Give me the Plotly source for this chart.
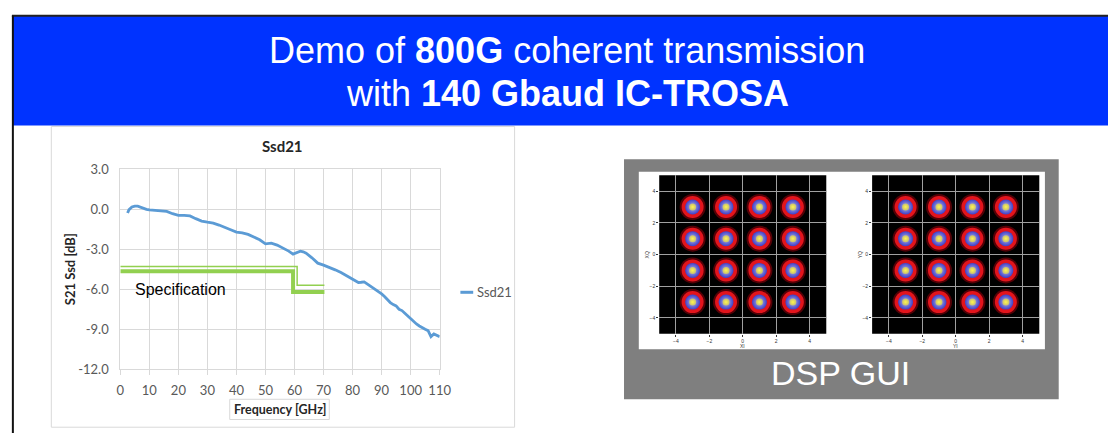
import plotly.graph_objects as go

# ---- S21 measurement (differential insertion loss) ----
freq_ghz = [2.5, 3, 4, 5, 6, 7, 8, 9, 10, 12, 14, 16, 18, 20, 22, 24, 26, 28, 30,
            32, 34, 36, 38, 40, 42, 44, 46, 48, 50, 52, 54, 56, 58, 59.5, 61, 62,
            63, 64, 66, 68, 70, 72, 74, 76, 78, 80, 82, 83, 84, 85, 86, 87, 88,
            89, 90, 91, 92, 93, 94, 95, 96, 97, 98, 99, 100, 101, 102, 103, 104,
            105, 106, 107, 108, 109, 110]
ssd21_db = [-0.30, -0.05, 0.15, 0.22, 0.22, 0.12, 0.05, -0.02, -0.07, -0.10, -0.13,
            -0.18, -0.35, -0.47, -0.47, -0.52, -0.72, -0.90, -0.98, -1.05, -1.20,
            -1.35, -1.55, -1.72, -1.78, -1.90, -2.08, -2.30, -2.60, -2.55, -2.70,
            -2.90, -3.15, -3.37, -3.25, -3.15, -3.20, -3.30, -3.65, -4.05, -4.20,
            -4.35, -4.55, -4.75, -5.00, -5.25, -5.50, -5.48, -5.45, -5.60, -5.75,
            -5.85, -6.05, -6.20, -6.35, -6.55, -6.80, -7.00, -7.15, -7.25, -7.50,
            -7.60, -7.80, -8.00, -8.25, -8.45, -8.60, -8.75, -8.90, -9.00, -9.10,
            -9.55, -9.35, -9.45, -9.55]

# Specification mask, drawn as a double line (thin upper, thick lower)
spec_thin_freq = [0, 60.9, 60.9, 70.3]
spec_thin_db = [-4.3, -4.3, -5.7, -5.7]
spec_thick_freq = [0, 59.5, 59.5, 70.3]
spec_thick_db = [-4.65, -4.65, -6.2, -6.2]

x_ticks = [0, 10, 20, 30, 40, 50, 60, 70, 80, 90, 100, 110]
x_tick_labels = ["0", "10", "20", "30", "40", "50", "60", "70", "80", "90", "100", "110"]
y_ticks = [-12, -9, -6, -3, 0, 3]
y_tick_labels = ["-12.0", "-9.0", "-6.0", "-3.0", "0.0", "3.0"]

# ---- 16QAM constellation (two polarisations) ----
qam_levels = [-3, -1, 1, 3]
const_ticks = [-4, -2, 0, 2, 4]

W, H = 1120, 441


def px(x):
    return x / W


def py(y):
    return 1 - y / H


fig = go.Figure()

LINE_BLUE = "#5B9BD5"
SPEC_GREEN = "#92D050"

fig.add_trace(go.Scatter(x=spec_thin_freq, y=spec_thin_db, mode="lines",
                         line=dict(color=SPEC_GREEN, width=1.5),
                         xaxis="x", yaxis="y", hoverinfo="skip", showlegend=False))
fig.add_trace(go.Scatter(x=spec_thick_freq, y=spec_thick_db, mode="lines",
                         line=dict(color=SPEC_GREEN, width=4),
                         xaxis="x", yaxis="y", hoverinfo="skip", showlegend=False))
fig.add_trace(go.Scatter(x=freq_ghz, y=ssd21_db, mode="lines", name="Ssd21",
                         line=dict(color=LINE_BLUE, width=2.8),
                         xaxis="x", yaxis="y", showlegend=False))

# constellation points: red halo, blue core, bright yellow centre
pts_i = [i for q in qam_levels for i in qam_levels]
pts_q = [q for q in qam_levels for i in qam_levels]
for xa, ya in (("x2", "y2"), ("x3", "y3")):
    fig.add_trace(go.Scatter(x=pts_i, y=pts_q, mode="markers", xaxis=xa, yaxis=ya,
                             marker=dict(size=26, color="rgba(140,0,10,0.6)", line=dict(width=0)),
                             hoverinfo="skip", showlegend=False))
    fig.add_trace(go.Scatter(x=pts_i, y=pts_q, mode="markers", xaxis=xa, yaxis=ya,
                             marker=dict(size=22, color="#E3141C", line=dict(width=0)),
                             hoverinfo="skip", showlegend=False))
    fig.add_trace(go.Scatter(x=pts_i, y=pts_q, mode="markers", xaxis=xa, yaxis=ya,
                             marker=dict(size=15, color="#3D40C8", line=dict(width=0),
                                         gradient=dict(type="radial", color="#B9B6E6")),
                             hoverinfo="skip", showlegend=False))
    fig.add_trace(go.Scatter(x=pts_i, y=pts_q, mode="markers", xaxis=xa, yaxis=ya,
                             marker=dict(size=7, color="rgba(215,205,90,0.8)", line=dict(width=0),
                                         gradient=dict(type="radial", color="#FFF64A")),
                             hoverinfo="skip", showlegend=False))

shapes = [
    # header band and slide frame
    dict(type="rect", xref="paper", yref="paper", x0=px(9), x1=1.0, y0=py(122), y1=py(8),
         fillcolor="#0033FF", line=dict(width=0), layer="below"),
    dict(type="line", xref="paper", yref="paper", x0=px(8), x1=1.0, y0=py(8), y1=py(8),
         line=dict(color="#222222", width=2), layer="below"),
    dict(type="line", xref="paper", yref="paper", x0=px(9), x1=px(9), y0=0, y1=py(8),
         line=dict(color="#111111", width=2), layer="below"),
    # chart frame and axis-title box
    dict(type="rect", xref="paper", yref="paper", x0=px(48), x1=px(518), y0=py(435), y1=py(123),
         line=dict(color="#D9D9D9", width=1), layer="below"),
    dict(type="rect", xref="paper", yref="paper", x0=px(229), x1=px(330), y0=py(427), y1=py(406),
         line=dict(color="#D9D9D9", width=1), layer="below"),
    # DSP GUI panel
    dict(type="rect", xref="paper", yref="paper", x0=px(629), x1=px(1070), y0=py(406), y1=py(157),
         fillcolor="#7F7F7F", line=dict(width=0), layer="below"),
    dict(type="rect", xref="paper", yref="paper", x0=px(644), x1=px(1056), y0=py(354), y1=py(170),
         fillcolor="#FFFFFF", line=dict(width=0), layer="below"),
    dict(type="rect", xref="x2 domain", yref="y2 domain", x0=0, x1=1, y0=0, y1=1,
         fillcolor="#000000", line=dict(width=0), layer="below"),
    dict(type="rect", xref="x3 domain", yref="y3 domain", x0=0, x1=1, y0=0, y1=1,
         fillcolor="#000000", line=dict(width=0), layer="below"),
    # legend swatch
    dict(type="line", xref="paper", yref="paper", x0=px(463), x1=px(476), y0=py(295), y1=py(295),
         line=dict(color=LINE_BLUE, width=3)),
]

TITLE_FONT = "Liberation Sans, Arial, sans-serif"
CHART_FONT = "Lato, Carlito, sans-serif"

annotations = [
    dict(text="Demo of <b>800G</b> coherent transmission", x=px(571), y=py(44),
         font=dict(family=TITLE_FONT, size=36, color="#FFFFFF")),
    dict(text="with <b>140 Gbaud IC-TROSA</b>", x=px(572), y=py(89),
         font=dict(family=TITLE_FONT, size=36, color="#FFFFFF")),
    dict(text="<b>Ssd21</b>", x=px(283), y=py(143),
         font=dict(family=CHART_FONT, size=15, color="#262626")),
    dict(text="<b>S21 Ssd [dB]</b>", x=px(67), y=py(271), textangle=-90,
         font=dict(family=CHART_FONT, size=13, color="#262626")),
    dict(text="<b>Frequency [GHz]</b>", x=px(280), y=py(417),
         font=dict(family=CHART_FONT, size=12.5, color="#262626")),
    dict(text="Ssd21", x=px(478), y=py(295), xanchor="left",
         font=dict(family=CHART_FONT, size=13, color="#595959")),
    dict(text="Specification", xref="x", yref="y", x=4.3, y=-6.03, xanchor="left",
         font=dict(family=TITLE_FONT, size=16, color="#000000")),
    dict(text="DSP GUI", x=px(849), y=py(379),
         font=dict(family=TITLE_FONT, size=34, color="#FFFFFF")),
    dict(text="XI", x=px(749.5), y=py(351), font=dict(family=TITLE_FONT, size=5, color="#333333")),
    dict(text="XQ", x=px(652), y=py(256), textangle=-90,
         font=dict(family=TITLE_FONT, size=5, color="#333333")),
    dict(text="YI", x=px(965.5), y=py(351), font=dict(family=TITLE_FONT, size=5, color="#333333")),
    dict(text="YQ", x=px(868), y=py(256), textangle=-90,
         font=dict(family=TITLE_FONT, size=5, color="#333333")),
]
for a in annotations:
    a.setdefault("xref", "paper")
    a.setdefault("yref", "paper")
    a.setdefault("xanchor", "center")
    a.setdefault("yanchor", "middle")
    a["showarrow"] = False

tick_font = dict(family=CHART_FONT, size=13, color="#595959")
GRID = "#D9D9D9"

const_axis = dict(range=[-5, 5], tickvals=const_ticks, showgrid=True, gridcolor="#A0A0A0",
                  gridwidth=0.7, zeroline=False, ticks="outside", ticklen=2, tickcolor="#333333",
                  tickfont=dict(family=TITLE_FONT, size=5, color="#333333"), showline=False,
                  fixedrange=True)

fig.update_layout(
    width=W, height=H, margin=dict(l=0, r=0, t=0, b=0),
    paper_bgcolor="#FFFFFF", plot_bgcolor="rgba(0,0,0,0)",
    showlegend=False, shapes=shapes, annotations=annotations,
    xaxis=dict(domain=[px(118), px(442)], range=[0, 110], tickvals=x_ticks,
               ticktext=x_tick_labels, showgrid=True, gridcolor=GRID, zeroline=False,
               showline=True, linecolor=GRID, mirror=True, ticks="outside", ticklen=5,
               tickcolor=GRID, tickfont=tick_font, ticklabelstandoff=4, fixedrange=True,
               anchor="y"),
    yaxis=dict(domain=[py(375), py(167)], range=[-12, 3], tickvals=y_ticks,
               ticktext=y_tick_labels, showgrid=True, gridcolor=GRID, zeroline=False,
               showline=True, linecolor=GRID, mirror=True, ticks="", tickfont=tick_font,
               ticklabelstandoff=8, fixedrange=True, anchor="x"),
    xaxis2=dict(domain=[px(664.7), px(834.2)], anchor="y2", **const_axis),
    yaxis2=dict(domain=[py(338.1), py(173.5)], anchor="x2", **const_axis),
    xaxis3=dict(domain=[px(880.7), px(1050.3)], anchor="y3", **const_axis),
    yaxis3=dict(domain=[py(338.1), py(173.5)], anchor="x3", **const_axis),
)

fig.write_html("out.html")
